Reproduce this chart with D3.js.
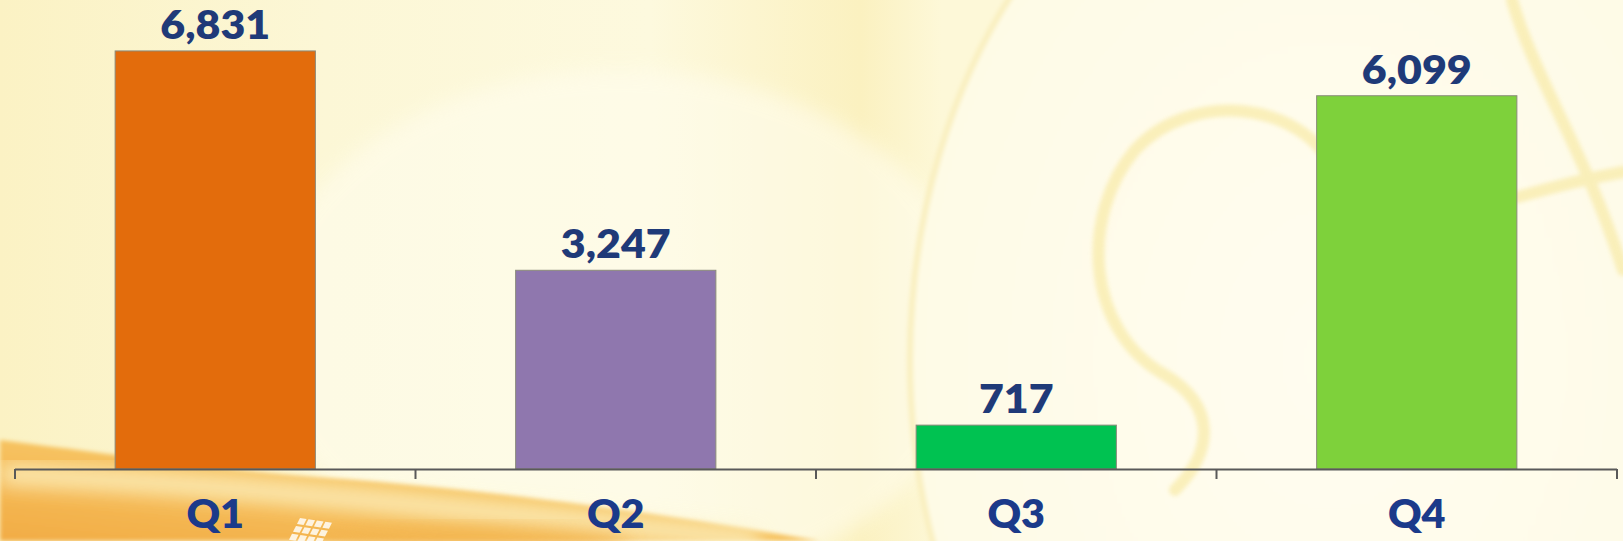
<!DOCTYPE html>
<html>
<head>
<meta charset="utf-8">
<script src="https://cdn.jsdelivr.net/npm/d3@7"></script>
<style>
  html, body { margin: 0; padding: 0; background: #fdf9dc; }
  svg { display: block; }
</style>
</head>
<body>
<svg id="chart" width="1623" height="541"></svg>
<script>
// ---- data ----
const categories = ["Q1", "Q2", "Q3", "Q4"];
const values = [6831, 3247, 717, 6099];
const valueLabels = ["6,831", "3,247", "717", "6,099"];
const barColors = ["#e36c0c", "#8f77ae", "#00c251", "#7ed13b"];

const W = 1623, H = 541;
const svg = d3.select("#chart");
const defs = svg.append("defs");

// ---- decorative background ----
const bg = defs.append("linearGradient").attr("id", "bg").attr("x1", 0).attr("x2", 1).attr("y1", 0).attr("y2", 0);
[[0, "#fbf2c4"], [0.2, "#fcf7d6"], [0.4, "#fdf9de"], [0.53, "#fbf1c0"], [0.58, "#fdf8d8"], [1, "#fdf8d8"]]
  .forEach(([o, c]) => bg.append("stop").attr("offset", o).attr("stop-color", c));
svg.append("rect").attr("width", W).attr("height", H).attr("fill", "url(#bg)");

const blur = defs.append("filter").attr("id", "blur").attr("x", -0.2).attr("y", -0.2).attr("width", 1.4).attr("height", 1.4);
blur.append("feGaussianBlur").attr("stdDeviation", 10);
const blurS = defs.append("filter").attr("id", "blurS");
blurS.append("feGaussianBlur").attr("stdDeviation", 2);

// central light area
svg.append("ellipse").attr("cx", 620).attr("cy", 330).attr("rx", 360).attr("ry", 260)
  .attr("fill", "#fffdee").attr("opacity", 0.6).attr("filter", "url(#blur)");

// large faint disc on the right
const disc = defs.append("radialGradient").attr("id", "disc");
disc.append("stop").attr("offset", 0).attr("stop-color", "#fffdf0");
disc.append("stop").attr("offset", 1).attr("stop-color", "#fefbe6");
svg.append("ellipse").attr("cx", 1330).attr("cy", 360).attr("rx", 420).attr("ry", 560)
  .attr("fill", "url(#disc)").attr("stroke", "#f9efbf").attr("stroke-width", 6).attr("filter", "url(#blurS)");

// swirl strokes
const swirl = svg.append("g").attr("fill", "none").attr("stroke", "#f8eaa6").attr("stroke-width", 12)
  .attr("stroke-linecap", "round").attr("opacity", 0.7).attr("filter", "url(#blurS)");
swirl.append("path").attr("d", "M1335,170 C1300,100 1190,90 1135,150 C1080,215 1085,330 1165,375 C1215,405 1215,450 1175,490");
swirl.append("path").attr("d", "M1512,0 C1535,80 1585,150 1623,270");
swirl.append("path").attr("d", "M1518,197 C1560,185 1590,178 1623,172");

// bottom-left orange swoosh
const og = defs.append("linearGradient").attr("id", "og").attr("x1", 0).attr("x2", 1).attr("y1", 1).attr("y2", 0);
og.append("stop").attr("offset", 0).attr("stop-color", "#f2ac45");
og.append("stop").attr("offset", 0.6).attr("stop-color", "#f7c766");
og.append("stop").attr("offset", 1).attr("stop-color", "#fbe29a");
svg.append("path").attr("d", "M0,440 C120,455 220,470 330,478 C520,492 700,520 820,541 L0,541 Z")
  .attr("fill", "url(#og)").attr("filter", "url(#blurS)");
// light streak across the swoosh
svg.append("path").attr("d", "M0,474 C220,484 460,508 760,541")
  .attr("fill", "none").attr("stroke", "#fdf6cc").attr("stroke-width", 20).attr("opacity", 0.85).attr("filter", "url(#blur)");
// orange glow lower middle
svg.append("ellipse").attr("cx", 470).attr("cy", 545).attr("rx", 160).attr("ry", 18)
  .attr("fill", "#f3b550").attr("opacity", 0.7).attr("filter", "url(#blur)");
// little white panel grid
const grid = svg.append("g").attr("transform", "translate(300,518) skewX(-20) rotate(8)").attr("fill", "#fffaf0").attr("opacity", 0.9);
for (let r = 0; r < 3; r++) for (let c = 0; c < 4; c++)
  grid.append("rect").attr("x", c * 9).attr("y", r * 8).attr("width", 7).attr("height", 6);

// ---- scales ----
const x = d3.scaleBand().domain(categories).range([15, 1617]).paddingInner(0.5).paddingOuter(0.25);
const y = d3.scaleLinear().domain([0, 7000]).range([469, 469 - 7000 * 0.0612]);

// ---- bars ----
svg.append("g").selectAll("rect").data(categories).join("rect")
  .attr("x", d => x(d))
  .attr("y", (d, i) => y(values[i]))
  .attr("width", x.bandwidth())
  .attr("height", (d, i) => y(0) - y(values[i]))
  .attr("fill", (d, i) => barColors[i])
  .attr("stroke", "#8a8a7a").attr("stroke-width", 1);

// ---- value labels ----
svg.append("g").selectAll("text").data(categories).join("text")
  .attr("transform", (d, i) => `translate(${x(d) + x.bandwidth() / 2},${y(values[i]) - 12}) scale(1.1,1)`)
  .attr("text-anchor", "middle")
  .attr("font-family", "Lato, sans-serif").attr("font-weight", 800).attr("font-size", 39)
  .attr("fill", "#1f3a78")
  .text((d, i) => valueLabels[i]);

// ---- x axis ----
const axisG = svg.append("g").attr("transform", `translate(0,${y(0)})`);
const [r0, r1] = x.range();
axisG.append("line").attr("x1", r0).attr("x2", r1).attr("y1", 0.5).attr("y2", 0.5)
  .attr("stroke", "#595959").attr("stroke-width", 2);
const boundaries = d3.range(categories.length + 1).map(i => r0 + i * x.step());
axisG.selectAll(".tk").data(boundaries).join("line").attr("class", "tk")
  .attr("x1", d => d).attr("x2", d => d).attr("y1", 0).attr("y2", 10)
  .attr("stroke", "#595959").attr("stroke-width", 2);

const labelAxis = d3.axisBottom(x).tickSize(0).tickPadding(0);
const la = svg.append("g").attr("transform", "translate(0,528)").call(labelAxis);
la.select(".domain").remove();
la.selectAll(".tick text")
  .attr("dy", 0).attr("y", 0).attr("x", 0)
  .attr("font-family", "Lato, sans-serif").attr("font-weight", 800).attr("font-size", 39)
  .attr("fill", "#1b3a8a")
  .attr("transform", "scale(1.06,1)");
</script>
</body>
</html>
